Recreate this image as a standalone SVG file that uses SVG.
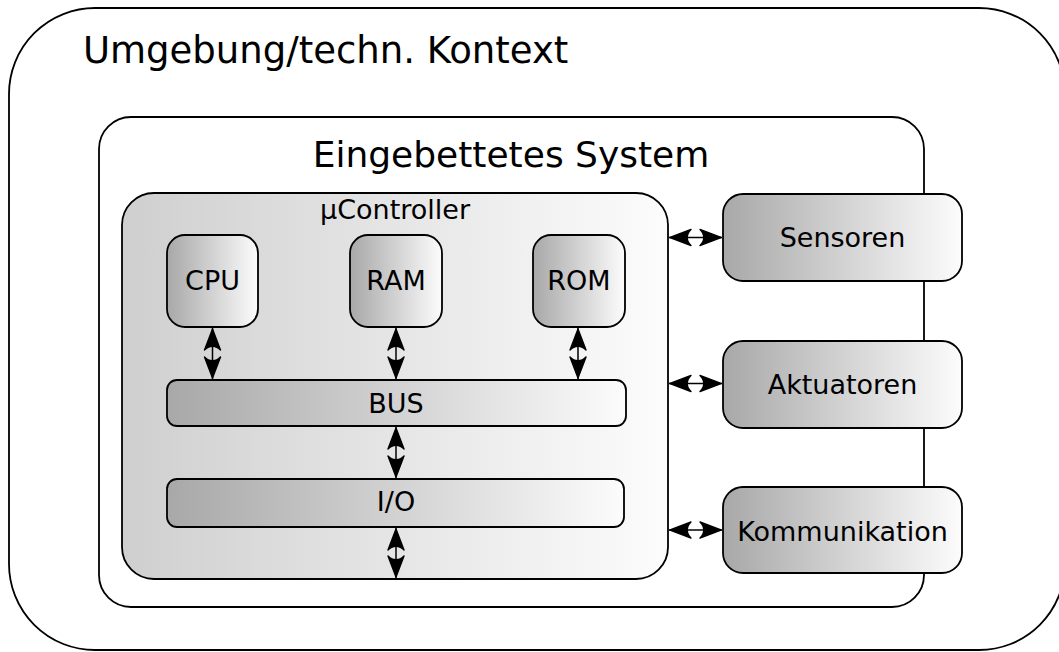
<svg xmlns="http://www.w3.org/2000/svg" width="1059" height="652" viewBox="0 0 1059 652">
  <defs>
    <!-- shaded fill for inner components -->
    <linearGradient id="gNode" x1="0" y1="0" x2="1" y2="0">
      <stop offset="0" stop-color="#a8a8a8"/>
      <stop offset="1" stop-color="#fcfcfc"/>
    </linearGradient>
    <!-- lighter fill for the microcontroller body -->
    <linearGradient id="gCtrl" x1="0" y1="0" x2="1" y2="0">
      <stop offset="0" stop-color="#cfcfcf"/>
      <stop offset="1" stop-color="#fcfcfc"/>
    </linearGradient>
    <!-- concave-backed arrow head, used on both ends of each link -->
    <marker id="head" viewBox="-24 -10 25 20" refX="0" refY="0" markerWidth="25" markerHeight="20"
            markerUnits="userSpaceOnUse" orient="auto-start-reverse">
      <path d="M-1,0 L-22,-8 C-17,-3.5 -17,3.5 -22,8 Z" fill="#000" stroke="#000" stroke-width="1.4" stroke-linejoin="round"/>
    </marker>
  </defs>
  <style>
    .box{stroke:#000;stroke-width:1.8}
    .lbl{font-family:"DejaVu Sans",Verdana,sans-serif;font-size:27px;fill:#000;text-anchor:middle}
    .big{font-size:36px}
    .link{stroke:#000;stroke-width:1.5;fill:none;marker-start:url(#head);marker-end:url(#head)}
  </style>

  <g id="umgebung">
    <rect class="box" x="9" y="8" width="1056" height="642" rx="86" fill="#fff"/>
    <text class="lbl big" x="83" y="63" style="text-anchor:start;font-size:37px">Umgebung/techn. Kontext</text>
  </g>

  <g id="eingebettetes-system">
    <rect class="box" x="99" y="117" width="825" height="490" rx="32" fill="#fff"/>
    <text class="lbl big" x="511" y="167">Eingebettetes System</text>
  </g>

  <g id="ucontroller">
    <rect class="box" x="122" y="193" width="546" height="386" rx="32" fill="url(#gCtrl)"/>
    <text class="lbl" x="395" y="219">µController</text>
  </g>

  <g id="cpu">
    <rect class="box" x="167" y="235" width="91" height="92" rx="18" fill="url(#gNode)"/>
    <text class="lbl" x="212.5" y="290">CPU</text>
  </g>

  <g id="ram">
    <rect class="box" x="350" y="235" width="92" height="92" rx="18" fill="url(#gNode)"/>
    <text class="lbl" x="396" y="290">RAM</text>
  </g>

  <g id="rom">
    <rect class="box" x="533" y="235" width="92" height="92" rx="18" fill="url(#gNode)"/>
    <text class="lbl" x="579" y="290">ROM</text>
  </g>

  <g id="bus">
    <rect class="box" x="167" y="380" width="459" height="46" rx="10" fill="url(#gNode)"/>
    <text class="lbl" x="396" y="413">BUS</text>
  </g>

  <g id="io">
    <rect class="box" x="167" y="479" width="457" height="48" rx="10" fill="url(#gNode)"/>
    <text class="lbl" x="396" y="511">I/O</text>
  </g>

  <g id="sensoren">
    <rect class="box" x="723" y="194" width="239" height="87" rx="20" fill="url(#gNode)"/>
    <text class="lbl" x="842.5" y="247">Sensoren</text>
  </g>

  <g id="aktuatoren">
    <rect class="box" x="723" y="341" width="239" height="87" rx="20" fill="url(#gNode)"/>
    <text class="lbl" x="842.5" y="394">Aktuatoren</text>
  </g>

  <g id="kommunikation">
    <rect class="box" x="723" y="487" width="239" height="86" rx="20" fill="url(#gNode)"/>
    <text class="lbl" x="842.5" y="541">Kommunikation</text>
  </g>

  <g id="connectors">
    <line class="link" x1="212.5" y1="328" x2="212.5" y2="379"/>
    <line class="link" x1="396" y1="328" x2="396" y2="379"/>
    <line class="link" x1="578" y1="328" x2="578" y2="379"/>
    <line class="link" x1="396" y1="427" x2="396" y2="478"/>
    <line class="link" x1="396" y1="528" x2="396" y2="578"/>
    <line class="link" x1="669" y1="237.5" x2="722" y2="237.5"/>
    <line class="link" x1="669" y1="383.5" x2="722" y2="383.5"/>
    <line class="link" x1="669" y1="530" x2="722" y2="530"/>
  </g>
</svg>
